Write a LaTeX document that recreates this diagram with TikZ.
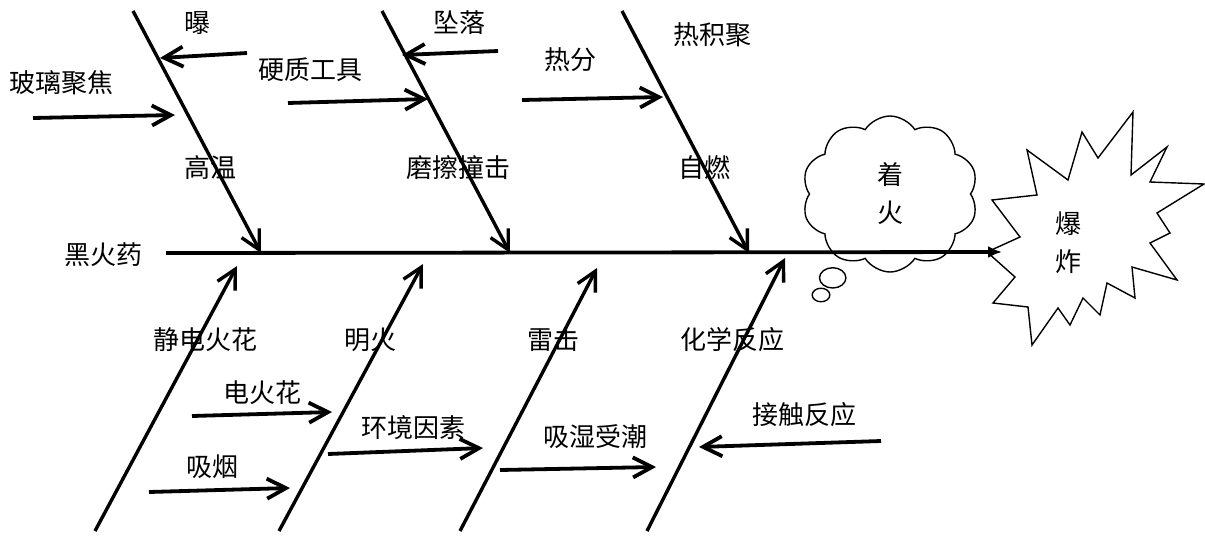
\documentclass[tikz,border=0pt]{standalone}
\usepackage{fontspec}
\newfontfamily\cjk{Noto Sans CJK SC}
\usetikzlibrary{arrows.meta,shapes.callouts,shapes.symbols}

\begin{document}
\begin{tikzpicture}[x=0.5pt,y=-0.5pt,
	bone/.style={line width=1.7pt, -{Straight Barb[length=9.5pt,width=10pt]}},
	sub/.style={line width=1.9pt, -{Straight Barb[length=9.5pt,width=10pt]}},
	spine/.style={line width=1.9pt, -{Latex[length=7pt,width=6pt]}},
	lbl/.style={font=\cjk\fontsize{13}{19}\selectfont, inner sep=0pt, align=center}
	]
	\useasboundingbox (0,0) rectangle (1205,536);

	% cloud and burst
	\node[lbl, draw, line width=0.7pt, cloud callout, cloud puffs=10, cloud puff arc=115,
		cloud ignores aspect, minimum width=88pt, minimum height=78pt,
		callout absolute pointer={(821,295)}] (fire) at (890,194) {着\\火};
	\draw[line width=0.7pt] (992,200) -- (1037,195) -- (1027,150) -- (1068,180) -- (1082,132)
		-- (1098,158) -- (1133,112) -- (1131,175) -- (1167,147) -- (1150,182) -- (1204,184)
		-- (1157,213) -- (1170,233) -- (1150,243) -- (1177,280) -- (1132,267) -- (1135,298)
		-- (1107,283) -- (1100,315) -- (1083,298) -- (1070,325) -- (1058,308) -- (1032,345)
		-- (1028,307) -- (993,303) -- (1015,277) -- (987,252) -- (1020,237) -- cycle;
	\node[lbl] (boom) at (1068,243) {爆\\炸};

	% spine
	\node[lbl] (hei) at (103,255) {黑火药};
	\coordinate (tail) at (166,253);
	\coordinate (head) at (1002,252);
	\draw[spine] (tail) -- (head);

	% upper bones
	\coordinate (u1s) at (133,11);  \coordinate (u1e) at (261,253);
	\coordinate (u2s) at (382,11);  \coordinate (u2e) at (510,253);
	\coordinate (u3s) at (622,11);  \coordinate (u3e) at (749,253);
	\draw[bone] (u1s) -- (u1e);
	\draw[bone] (u2s) -- (u2e);
	\draw[bone] (u3s) -- (u3e);
	\node[lbl] (gaowen) at (210,168) {高温};
	\node[lbl] (mocha) at (458,168) {磨擦撞击};
	\node[lbl] (ziran) at (704,168) {自燃};

	\node[lbl] (bao) at (197,23) {曝};
	\node[lbl] (boli) at (62,83) {玻璃聚焦};
	\node[lbl] (zhuiluo) at (459,23) {坠落};
	\node[lbl] (yingzhi) at (310,70) {硬质工具};
	\node[lbl] (refen) at (570,60) {热分};
	\node[lbl] (rejiju) at (712,35) {热积聚};
	\coordinate (a1) at (247,53);  \coordinate (a2) at (160,58);
	\coordinate (b1) at (33,118);  \coordinate (b2) at (175,115);
	\coordinate (c1) at (498,51);  \coordinate (c2) at (402,55);
	\coordinate (d1) at (288,103); \coordinate (d2) at (428,99);
	\coordinate (e1) at (522,100); \coordinate (e2) at (663,97);
	\draw[sub] (a1) -- (a2);
	\draw[sub] (b1) -- (b2);
	\draw[sub] (c1) -- (c2);
	\draw[sub] (d1) -- (d2);
	\draw[sub] (e1) -- (e2);

	% lower bones
	\coordinate (l1s) at (95,531);  \coordinate (l1e) at (237,266);
	\coordinate (l2s) at (279,531); \coordinate (l2e) at (423,264);
	\coordinate (l3s) at (460,531); \coordinate (l3e) at (597,268);
	\coordinate (l4s) at (647,531); \coordinate (l4e) at (785,258);
	\draw[bone] (l1s) -- (l1e);
	\draw[bone] (l2s) -- (l2e);
	\draw[bone] (l3s) -- (l3e);
	\draw[bone] (l4s) -- (l4e);
	\node[lbl] (jingdian) at (205,340) {静电火花};
	\node[lbl] (minghuo) at (370,340) {明火};
	\node[lbl] (leiji) at (553,340) {雷击};
	\node[lbl] (huaxue) at (732,340) {化学反应};

	\node[lbl] (dianhuo) at (262,393) {电火花};
	\node[lbl] (xiyan) at (212,467) {吸烟};
	\node[lbl] (huanjing) at (413,428) {环境因素};
	\node[lbl] (xishi) at (595,437) {吸湿受潮};
	\node[lbl] (jiechu) at (804,415) {接触反应};
	\coordinate (f1) at (192,416); \coordinate (f2) at (332,412);
	\coordinate (g1) at (149,492); \coordinate (g2) at (290,488);
	\coordinate (h1) at (328,454); \coordinate (h2) at (483,448);
	\coordinate (i1) at (500,470); \coordinate (i2) at (656,467);
	\coordinate (j1) at (881,441); \coordinate (j2) at (699,447);
	\draw[sub] (f1) -- (f2);
	\draw[sub] (g1) -- (g2);
	\draw[sub] (h1) -- (h2);
	\draw[sub] (i1) -- (i2);
	\draw[sub] (j1) -- (j2);
\end{tikzpicture}
\end{document}
